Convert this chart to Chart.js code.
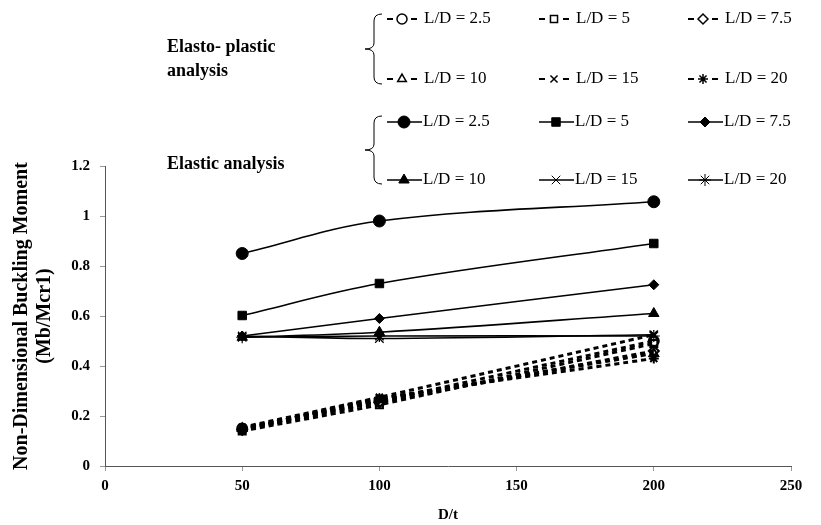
<!DOCTYPE html>
<html>
<head>
<meta charset="utf-8">
<title>Non-Dimensional Buckling Moment</title>
<script src="https://cdn.jsdelivr.net/npm/chart.js@4.4.0/dist/chart.umd.min.js"></script>
<style>
  body { margin: 0; background: #fff; }
  #wrap { position: relative; width: 821px; height: 525px; }
</style>
</head>
<body>
<div id="wrap"><canvas id="canvas" width="821" height="525"></canvas></div>
<script>
// x values (D/t)
const dt = [50, 100, 200];
const ratios = ['2.5', '5', '7.5', '10', '15', '20'];

// elastic analysis
const el25 = [0.85, 0.98, 1.057];
const el5 = [0.602, 0.73, 0.89];
const el75 = [0.52, 0.59, 0.725];
const el10 = [0.515, 0.535, 0.61];
const el15 = [0.52, 0.51, 0.525];
const el20 = [0.515, 0.52, 0.52];

// elasto-plastic analysis
const ep25 = [0.15, 0.26, 0.50];
const ep5 = [0.14, 0.245, 0.49];
const ep75 = [0.145, 0.255, 0.46];
const ep10 = [0.15, 0.265, 0.45];
const ep15 = [0.155, 0.275, 0.525];
const ep20 = [0.145, 0.27, 0.43];

const xTicks = [0, 50, 100, 150, 200, 250];
const yTicks = [0, 0.2, 0.4, 0.6, 0.8, 1, 1.2];

const serif = '"Liberation Serif", "Times New Roman", serif';
const markers = ['circle', 'rect', 'rectRot', 'triangle', 'crossRot', 'star'];
const elRadius = [6, 6, 5, 6, 6, 6];

function pts(vals) {
  return vals.map((v, i) => ({ x: dt[i], y: v }));
}

const elData = [el25, el5, el75, el10, el15, el20];
const epData = [ep25, ep5, ep75, ep10, ep15, ep20];

const datasets = [];
epData.forEach((d, i) => {
  datasets.push({
    label: 'Elasto-plastic L/D = ' + ratios[i],
    data: pts(d),
    borderColor: '#000',
    borderWidth: 3,
    borderDash: [5, 4],
    pointStyle: markers[i],
    pointRadius: 5,
    pointBackgroundColor: 'rgba(0,0,0,0)',
    pointBorderColor: '#000',
    pointBorderWidth: 2,
    tension: 0.2,
    fill: false
  });
});
elData.forEach((d, i) => {
  const open = markers[i] == 'crossRot' || markers[i] == 'star';
  datasets.push({
    label: 'Elastic L/D = ' + ratios[i],
    data: pts(d),
    borderColor: '#000',
    borderWidth: 1.6,
    pointStyle: markers[i],
    pointRadius: elRadius[i],
    pointBackgroundColor: '#000',
    pointBorderColor: '#000',
    pointBorderWidth: open ? 1.2 : 1,
    tension: 0.35,
    fill: false
  });
});

// curly brace in front of each legend group
function brace(ctx, x, y1, y2) {
  const ym = (y1 + y2) / 2;
  ctx.beginPath();
  ctx.moveTo(x + 8, y1);
  ctx.quadraticCurveTo(x, y1, x, y1 + 7);
  ctx.lineTo(x, ym - 6);
  ctx.quadraticCurveTo(x, ym, x - 9, ym);
  ctx.quadraticCurveTo(x, ym, x, ym + 6);
  ctx.lineTo(x, y2 - 7);
  ctx.quadraticCurveTo(x, y2, x + 8, y2);
  ctx.stroke();
}

const legendPlugin = {
  id: 'groupLegend',
  afterDraw(chart) {
    const ctx = chart.ctx;
    const colX = [387, 539, 688];
    ctx.save();
    ctx.fillStyle = '#000';
    ctx.strokeStyle = '#000';
    ctx.textBaseline = 'middle';
    ctx.textAlign = 'left';

    ctx.font = 'bold 18px ' + serif;
    ctx.fillText('Elasto- plastic', 167, 47);
    ctx.fillText('analysis', 167, 71);
    ctx.fillText('Elastic analysis', 167, 164);

    ctx.lineWidth = 1;
    brace(ctx, 374, 14, 84);
    brace(ctx, 374, 116, 184);

    ctx.font = '17px ' + serif;
    const rowsEp = [19, 79];
    const rowsEl = [122, 180];
    for (let i = 0; i < 6; i++) {
      const cx = colX[i % 3];
      // elasto-plastic sample: dash, hollow marker, dash
      let y = rowsEp[Math.floor(i / 3)];
      ctx.lineWidth = 2;
      ctx.beginPath();
      ctx.moveTo(cx, y); ctx.lineTo(cx + 6, y);
      ctx.moveTo(cx + 24, y); ctx.lineTo(cx + 30, y);
      ctx.stroke();
      ctx.fillStyle = '#fff';
      ctx.lineWidth = 1.5;
      Chart.helpers.drawPoint(ctx, { pointStyle: markers[i], radius: 5, rotation: 0, borderWidth: 1.5 }, cx + 15, y);
      ctx.fillStyle = '#000';
      ctx.fillText('L/D = ' + ratios[i], cx + 37, y);

      // elastic sample: solid line with filled marker
      y = rowsEl[Math.floor(i / 3)];
      ctx.lineWidth = 1.6;
      ctx.beginPath();
      ctx.moveTo(cx, y); ctx.lineTo(cx + 35, y);
      ctx.stroke();
      ctx.lineWidth = 1;
      Chart.helpers.drawPoint(ctx, { pointStyle: markers[i], radius: elRadius[i], rotation: 0, borderWidth: 1 }, cx + 17, y);
      ctx.fillText('L/D = ' + ratios[i], cx + 36, y);
    }
    ctx.restore();
  }
};

new Chart(document.getElementById('canvas'), {
  type: 'line',
  data: { datasets: datasets },
  options: {
    responsive: false,
    animation: false,
    devicePixelRatio: 1,
    layout: { padding: { top: 166, right: 30, left: 0, bottom: 0 } },
    plugins: { legend: { display: false }, tooltip: { enabled: false } },
    scales: {
      x: {
        type: 'linear',
        min: 0,
        max: 250,
        afterFit(scale) { scale.height = 59; },
        afterBuildTicks(scale) { scale.ticks = xTicks.map(v => ({ value: v })); },
        ticks: { color: '#000', padding: 6, font: { family: serif, size: 15, weight: 'bold' } },
        grid: { drawOnChartArea: false, drawTicks: true, tickLength: 5, color: '#999' },
        border: { color: '#555', width: 1 },
        title: { display: true, text: 'D/t', color: '#000', padding: { top: 0, bottom: 1 }, font: { family: serif, size: 15, weight: 'bold' } }
      },
      y: {
        min: 0,
        max: 1.2,
        afterFit(scale) { scale.width = 105; },
        afterBuildTicks(scale) { scale.ticks = yTicks.map(v => ({ value: v })); },
        ticks: {
          color: '#000',
          padding: 10,
          font: { family: serif, size: 15, weight: 'bold' },
          callback: v => String(Math.round(v * 10) / 10)
        },
        grid: { drawOnChartArea: false, drawTicks: true, tickLength: 5, color: '#999' },
        border: { color: '#555', width: 1 },
        title: {
          display: true,
          text: ['Non-Dimensional Buckling Moment', '(Mb/Mcr1)'],
          color: '#000',
          padding: { top: 10, bottom: 0 },
          font: { family: serif, size: 20, weight: 'bold', lineHeight: 1.15 }
        }
      }
    }
  },
  plugins: [legendPlugin]
});
</script>
</body>
</html>
